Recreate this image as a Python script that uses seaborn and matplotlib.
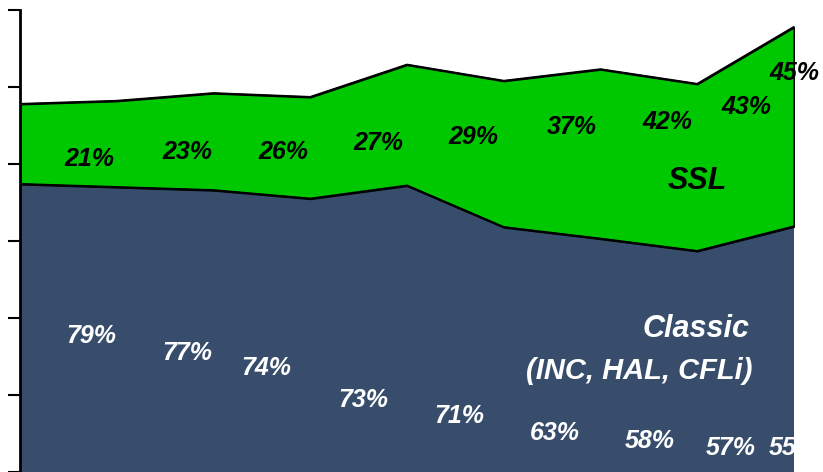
import numpy as np
import pandas as pd
import matplotlib
matplotlib.use("Agg")
import matplotlib.pyplot as plt
import seaborn as sns

# ---- data ----
periods = [0, 1, 2, 3, 4, 5, 6, 7, 8]
classic = [3.74, 3.70, 3.66, 3.55, 3.72, 3.18, 3.03, 2.87, 3.19]
ssl = [1.04, 1.12, 1.26, 1.32, 1.57, 1.90, 2.20, 2.17, 2.59]

ssl_labels = ["21%", "23%", "26%", "27%", "29%", "37%", "42%", "43%", "45%"]
ssl_label_x = [0.72, 1.73, 2.72, 3.70, 4.69, 5.70, 6.69, 7.51, 8.0]
ssl_label_y = [4.06, 4.15, 4.15, 4.27, 4.35, 4.48, 4.54, 4.74, 5.18]

classic_labels = ["79%", "77%", "74%", "73%", "71%", "63%", "58%", "57%", "55%"]
classic_label_x = [0.74, 1.73, 2.55, 3.55, 4.54, 5.53, 6.51, 7.35, 8.0]
classic_label_y = [1.76, 1.55, 1.35, 0.94, 0.73, 0.51, 0.40, 0.31, 0.31]

yticks = [0, 1, 2, 3, 4, 5, 6]

GREEN = "#00C800"
NAVY = "#384D6C"

sns.set_theme(style="white")
plt.rcParams["font.family"] = ["Liberation Sans", "DejaVu Sans"]

df = pd.DataFrame({"period": periods, "classic": classic, "ssl": ssl})
df["total"] = df["classic"] + df["ssl"]

fig = plt.figure(figsize=(8.23, 4.72), dpi=100)
ax = fig.add_axes([20 / 823, 0.0, 774 / 823, 462 / 472])

ax.fill_between(df["period"], 0, df["classic"], facecolor=NAVY, edgecolor="none", zorder=1)
ax.fill_between(df["period"], df["classic"], df["total"], facecolor=GREEN,
                edgecolor="black", linewidth=1.5, zorder=2)
sns.lineplot(data=df, x="period", y="classic", color="black", linewidth=1.5, ax=ax, zorder=3)
sns.lineplot(data=df, x="period", y="total", color="black", linewidth=1.5, ax=ax, zorder=3)

for t, x, y in zip(ssl_labels, ssl_label_x, ssl_label_y):
    ax.text(x, y, t, ha="center", va="center", fontsize=18, fontweight="bold",
            fontstyle="italic", color="black", zorder=5, clip_on=False)
for t, x, y in zip(classic_labels, classic_label_x, classic_label_y):
    ax.text(x, y, t, ha="center", va="center", fontsize=18, fontweight="bold",
            fontstyle="italic", color="white", zorder=5, clip_on=False)

ax.text(7.0, 3.78, "SSL", ha="center", va="center", fontsize=22, fontweight="bold",
        fontstyle="italic", color="black", zorder=5)
ax.text(7.545, 1.86, "Classic", ha="right", va="center", fontsize=22, fontweight="bold",
        fontstyle="italic", color="white", zorder=5)
ax.text(7.566, 1.315, "(INC, HAL, CFLi)", ha="right", va="center", fontsize=21,
        fontweight="bold", fontstyle="italic", color="white", zorder=5)

ax.set_xlim(0, 8)
ax.set_ylim(0, 6)
ax.set_yticks(yticks)
ax.set_yticklabels([])
ax.set_xticks([])
ax.set_xlabel("")
ax.set_ylabel("")
ax.tick_params(axis="y", direction="out", length=9, width=1.5, color="black", left=True)
for s in ["top", "right", "bottom"]:
    ax.spines[s].set_visible(False)
ax.spines["left"].set_color("black")
ax.spines["left"].set_linewidth(2)
ax.spines["left"].set_zorder(6)
ax.set_facecolor("white")
ax.grid(False)

fig.savefig("out.png", dpi=100)
